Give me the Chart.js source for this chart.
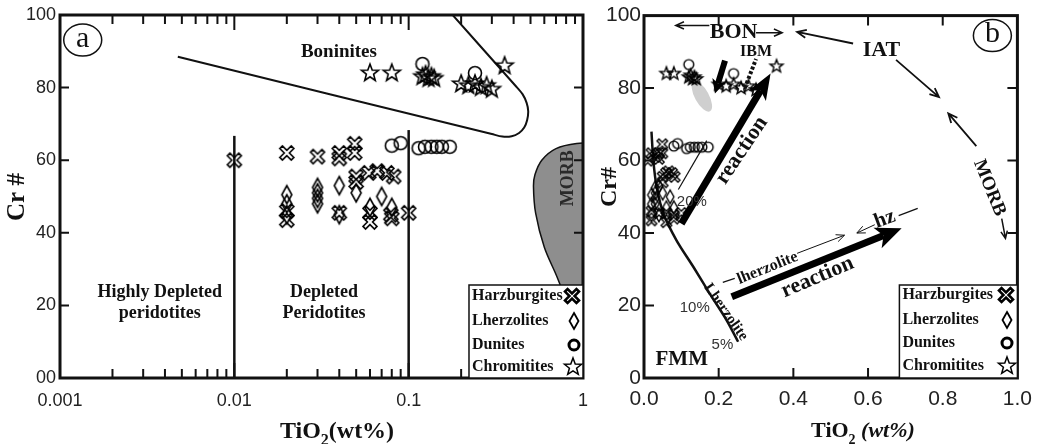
<!DOCTYPE html>
<html>
<head>
<meta charset="utf-8">
<script src="https://cdn.jsdelivr.net/npm/chart.js@4.4.0/dist/chart.umd.min.js"></script>
<style>
  html, body { margin: 0; padding: 0; background: #fff; }
  #wrap { position: relative; width: 1041px; height: 444px; overflow: hidden; }
  #wrap canvas { position: absolute; top: 0; }
</style>
</head>
<body>
<div id="wrap">
  <canvas id="chartA" width="600" height="444" style="left:0"></canvas>
  <canvas id="chartB" width="461" height="444" style="left:580px"></canvas>
</div>
<script>
// ---- sample data (TiO2 wt%, Cr#) ----
const harzTi = [0.01, 0.02, 0.02, 0.02, 0.03, 0.04, 0.04, 0.04, 0.049, 0.049, 0.05, 0.05, 0.059, 0.06, 0.06, 0.066, 0.075, 0.082, 0.079, 0.08, 0.1];
const harzCr = [60, 62, 46, 43.5, 61, 62, 60.5, 45.5, 64.5, 62, 55.5, 54, 56.5, 45.5, 43, 57, 56.5, 55.5, 45, 44, 45.5];
const lherzTi = [0.02, 0.02, 0.02, 0.03, 0.03, 0.03, 0.03, 0.04, 0.04, 0.05, 0.06, 0.07, 0.08];
const lherzCr = [50.5, 48, 45, 52.5, 51, 49.5, 48, 53, 45, 51, 47, 50, 47];
const duniteTi = [0.08, 0.09, 0.114, 0.124, 0.135, 0.145, 0.155, 0.172, 0.12, 0.24];
const duniteCr = [64, 64.7, 63.3, 63.7, 63.7, 63.7, 63.7, 63.7, 86.5, 84];
const chromTi = [0.06, 0.08, 0.12, 0.125, 0.13, 0.135, 0.14, 0.2, 0.22, 0.24, 0.26, 0.28, 0.3, 0.355];
const chromCr = [84, 84, 83, 83.5, 82.5, 83, 82.5, 81, 80.5, 81, 80, 80.5, 79.5, 86];
const rockNames = ['Harzburgites', 'Lherzolites', 'Dunites', 'Chromitites'];

// ---- fields and lines, panel a ----
const boniniteTi = [0.00474, 0.30, 0.345, 0.39, 0.43, 0.46, 0.478, 0.485, 0.475, 0.45, 0.41, 0.175];
const boniniteCr = [88.5, 67.2, 66.5, 66.6, 67.5, 69, 71, 73.5, 75.8, 78.2, 80.5, 100.5];
const morbTi = [1.3, 0.92, 0.70, 0.58, 0.53, 0.52, 0.535, 0.6, 0.71, 0.8, 0.88, 0.95, 1.3];
const morbCr = [64.8, 64.6, 63.2, 60, 56, 52.7, 45.4, 36, 27.8, 21, 12, 0, -5];
const hdLineTi = [0.01, 0.01], hdLineCr = [0, 66.7];
const dpLineTi = [0.1, 0.1], dpLineCr = [0, 68.3];

// ---- lines and arrows, panel b ----
const meltTi = [0.02, 0.025, 0.034, 0.052, 0.087, 0.132, 0.176, 0.221, 0.252];
const meltCr = [68, 60, 52.7, 45.4, 38, 30.7, 23.3, 16, 10];
const bonLeft = [[0.175, 97.3], [0.085, 97.3]];
const bonRight = [[0.30, 95.3], [0.37, 95.3]];
const iatLeft = [[0.56, 92.3], [0.41, 95.5]];
const iatDown = [[0.675, 87.8], [0.79, 77.5]];
const morbUp = [[0.89, 64], [0.815, 73]];
const morbDown = [[0.958, 44], [0.968, 38.5]];
const ibmArrow = [[0.217, 87.6], [0.19, 78.5]];
const ibmTrail = [[0.27, 80], [0.30, 88]];
const ibmField = [0.155, 77.7];
const reactUp = [[0.1, 42.6], [0.339, 84]];
const reactLow = [[0.235, 22.4], [0.69, 41.3]];
const meltThin = [[0.092, 52], [0.168, 65.5]];
const lherzDash = [[0.211, 26.4], [0.243, 27.5]];
const lherzArrow = [[0.41, 34.4], [0.537, 39.4]];
const hzLine = [[0.733, 46.8], [0.682, 44.8]];
const hzArrow = [[0.618, 42.3], [0.57, 40]];

// ---- tick values ----
const logTicks = [0.001, 0.01, 0.1, 1];
const linTicks = [0, 0.2, 0.4, 0.6, 0.8, 1.0];
const crTicks = [0, 20, 40, 60, 80, 100];

const SERIF = '"Liberation Serif", "Times New Roman", serif';
const SANS = '"Liberation Sans", Arial, sans-serif';
const INK = '#111';

function pts(xs, ys) { return xs.map((x, i) => ({ x: x, y: ys[i] })); }
function serif(size, bold, italic) { return (italic ? 'italic ' : '') + (bold ? 'bold ' : '') + size + 'px ' + SERIF; }

// outlined marker images
function mk(kind, w, h, lw) {
  const c = document.createElement('canvas');
  c.width = 2 * Math.ceil((w + lw * 2 + 2) / 2);
  c.height = 2 * Math.ceil((h + lw * 2 + 2) / 2);
  const g = c.getContext('2d');
  g.translate(c.width / 2, c.height / 2);
  g.strokeStyle = '#000';
  g.lineWidth = lw;
  g.beginPath();
  if (kind === 'x') {
    const t = w * 0.13, a = w / Math.SQRT2 - t;
    const p = [[t, t], [t, a], [-t, a], [-t, t], [-a, t], [-a, -t], [-t, -t], [-t, -a], [t, -a], [t, -t], [a, -t], [a, t]];
    const c45 = Math.SQRT1_2;
    p.forEach(([x, y], i) => {
      const X = (x - y) * c45, Y = (x + y) * c45;
      if (i) g.lineTo(X, Y); else g.moveTo(X, Y);
    });
    g.closePath();
  } else if (kind === 'diamond') {
    g.moveTo(0, -h / 2); g.lineTo(w / 2, 0); g.lineTo(0, h / 2); g.lineTo(-w / 2, 0); g.closePath();
  } else if (kind === 'circle') {
    g.arc(0, 0, w / 2, 0, Math.PI * 2);
  } else {
    for (let i = 0; i < 10; i++) {
      const r = i % 2 ? w / 2 * 0.42 : w / 2;
      const an = -Math.PI / 2 + i * Math.PI / 5;
      if (i) g.lineTo(r * Math.cos(an), r * Math.sin(an)); else g.moveTo(r * Math.cos(an), r * Math.sin(an));
    }
    g.closePath();
  }
  g.stroke();
  return c;
}

const legendMarks = [mk('x', 14, 14, 2.6), mk('diamond', 9, 16, 1.8), mk('circle', 10, 10, 3), mk('star', 18, 18, 1.5)];

function sampleSets(k, lw) {
  const base = { showLine: false, pointRadius: 6, pointHoverRadius: 6, order: 1 };
  return [
    Object.assign({ label: rockNames[0], data: pts(harzTi, harzCr), pointStyle: mk('x', 14 * k, 14 * k, lw) }, base),
    Object.assign({ label: rockNames[1], data: pts(lherzTi, lherzCr), pointStyle: mk('diamond', 10 * k, 18 * k, lw) }, base),
    Object.assign({ label: rockNames[2], data: pts(duniteTi, duniteCr), pointStyle: mk('circle', 13 * k, 13 * k, lw) }, base),
    Object.assign({ label: rockNames[3], data: pts(chromTi, chromCr), pointStyle: mk('star', 18 * k, 18 * k, lw) }, base)
  ];
}

function lineSet(xs, ys, width, extra) {
  return Object.assign({ data: pts(xs, ys), showLine: true, pointRadius: 0, borderColor: INK, borderWidth: width, tension: 0, fill: false, order: 2 }, extra || {});
}

function drawText(ctx, str, x, y, f, angle, color) {
  ctx.save();
  ctx.translate(x, y);
  if (angle) ctx.rotate(angle * Math.PI / 180);
  ctx.font = f;
  ctx.fillStyle = color || INK;
  ctx.textAlign = 'center';
  ctx.textBaseline = 'middle';
  ctx.fillText(str, 0, 0);
  ctx.restore();
}

function openArrow(ctx, p1, p2, head, lw) {
  const an = Math.atan2(p2[1] - p1[1], p2[0] - p1[0]);
  ctx.save();
  ctx.strokeStyle = INK; ctx.lineWidth = lw;
  ctx.beginPath();
  ctx.moveTo(p1[0], p1[1]); ctx.lineTo(p2[0], p2[1]);
  ctx.moveTo(p2[0] - head * Math.cos(an - 0.42), p2[1] - head * Math.sin(an - 0.42));
  ctx.lineTo(p2[0], p2[1]);
  ctx.lineTo(p2[0] - head * Math.cos(an + 0.42), p2[1] - head * Math.sin(an + 0.42));
  ctx.stroke();
  ctx.restore();
}

function solidArrow(ctx, p1, p2, w, hl, hw) {
  const an = Math.atan2(p2[1] - p1[1], p2[0] - p1[0]);
  const bx = p2[0] - hl * Math.cos(an), by = p2[1] - hl * Math.sin(an);
  const nx = -Math.sin(an), ny = Math.cos(an);
  const nb = hl * 0.25;
  ctx.save();
  ctx.strokeStyle = '#000'; ctx.fillStyle = '#000';
  ctx.lineWidth = w;
  ctx.beginPath(); ctx.moveTo(p1[0], p1[1]); ctx.lineTo(bx + nb * Math.cos(an), by + nb * Math.sin(an)); ctx.stroke();
  ctx.beginPath();
  ctx.moveTo(p2[0], p2[1]);
  ctx.lineTo(bx + nx * hw / 2, by + ny * hw / 2);
  ctx.lineTo(bx + nb * Math.cos(an), by + nb * Math.sin(an));
  ctx.lineTo(bx - nx * hw / 2, by - ny * hw / 2);
  ctx.closePath(); ctx.fill();
  ctx.restore();
}

function frame(chart, xTicks, yTicks) {
  const ctx = chart.ctx, a = chart.chartArea, sx = chart.scales.x, sy = chart.scales.y;
  ctx.save();
  ctx.strokeStyle = INK; ctx.lineWidth = 2;
  ctx.beginPath();
  xTicks.forEach(t => {
    const px = sx.getPixelForValue(t[0]);
    ctx.moveTo(px, a.top); ctx.lineTo(px, a.top + t[1]);
    ctx.moveTo(px, a.bottom); ctx.lineTo(px, a.bottom - t[1]);
  });
  yTicks.forEach(t => {
    const py = sy.getPixelForValue(t[0]);
    ctx.moveTo(a.left, py); ctx.lineTo(a.left + t[1], py);
    ctx.moveTo(a.right, py); ctx.lineTo(a.right - t[1], py);
  });
  ctx.stroke();
  ctx.lineWidth = 3;
  ctx.strokeRect(a.left, a.top, a.right - a.left, a.bottom - a.top);
  ctx.restore();
}

function legendBox(chart, box, rowsY, textX, markX) {
  const ctx = chart.ctx;
  ctx.save();
  ctx.fillStyle = '#fff';
  ctx.fillRect(box[0], box[1], box[2], box[3]);
  ctx.strokeStyle = INK; ctx.lineWidth = 1.5;
  ctx.strokeRect(box[0], box[1], box[2], box[3]);
  ctx.font = serif(16, true);
  ctx.fillStyle = INK;
  ctx.textBaseline = 'middle'; ctx.textAlign = 'left';
  chart.data.datasets.filter(d => rockNames.includes(d.label)).forEach((d, i) => {
    ctx.fillText(d.label, textX, rowsY[i]);
    const img = legendMarks[i];
    const mx = markX[i];
    ctx.drawImage(img, Math.round(mx - img.width / 2), Math.round(rowsY[i] - img.height / 2));
  });
  ctx.restore();
}

function tiTitle(ctx, cx, cy, size, gap, italicUnit) {
  const big = serif(size, true), small = serif(Math.round(size * 0.65), true);
  const unit = serif(size, true, italicUnit);
  const parts = [['TiO', big, 0], ['2', small, size * 0.3], [gap + '(wt%)', unit, 0]];
  ctx.save();
  ctx.fillStyle = INK; ctx.textBaseline = 'alphabetic'; ctx.textAlign = 'left';
  let w = 0;
  parts.forEach(p => { ctx.font = p[1]; w += ctx.measureText(p[0]).width; });
  let x = cx - w / 2;
  const base = cy + size * 0.33;
  parts.forEach(p => { ctx.font = p[1]; ctx.fillText(p[0], x, base + p[2]); x += ctx.measureText(p[0]).width; });
  ctx.restore();
}

function tagCircle(ctx, x, y, ch) {
  ctx.save();
  ctx.strokeStyle = INK; ctx.lineWidth = 1.5;
  ctx.beginPath(); ctx.ellipse(x, y, 19, 16, 0, 0, Math.PI * 2); ctx.stroke();
  ctx.restore();
  drawText(ctx, ch, x, y - 1, '30px ' + SERIF);
}

// ---- panel a annotations ----
const bonLabelA = [0.0398, 89.8];
const hdLabelA = [0.00373, 23.7];
const dpLabelA = [0.0327, 23.7];
const morbLabelA = [0.82, 55];
const tagA = [0.00135, 93.1];

const panelA = {
  id: 'panelA',
  afterDatasetsDraw(chart) {
    const ctx = chart.ctx, a = chart.chartArea, sx = chart.scales.x, sy = chart.scales.y;
    const X = v => sx.getPixelForValue(v), Y = v => sy.getPixelForValue(v);
    drawText(ctx, 'Boninites', X(bonLabelA[0]), Y(bonLabelA[1]), serif(19, true));
    drawText(ctx, 'Highly Depleted', X(hdLabelA[0]), Y(hdLabelA[1]), serif(18, true));
    drawText(ctx, 'peridotites', X(hdLabelA[0]), Y(hdLabelA[1]) + 21, serif(18, true));
    drawText(ctx, 'Depleted', X(dpLabelA[0]), Y(dpLabelA[1]), serif(18, true));
    drawText(ctx, 'Peridotites', X(dpLabelA[0]), Y(dpLabelA[1]) + 21, serif(18, true));
    drawText(ctx, 'MORB', X(morbLabelA[0]), Y(morbLabelA[1]), serif(18, true), -90, '#2a2a2a');
    tagCircle(ctx, X(tagA[0]), Y(tagA[1]), 'a');

    const xt = [];
    logTicks.slice(0, 3).forEach(d => {
      for (let m = 1; m < 10; m++) xt.push([d * m, m === 1 ? 15 : 9]);
    });
    frame(chart, xt, crTicks.slice(1, 5).map(v => [v, 9]));
    legendBox(chart, [a.right - 114, 285, 114, a.bottom - 285], [296, 321, 345, 367], a.right - 111, [a.right - 11, a.right - 9, a.right - 9, a.right - 10]);

    drawText(ctx, 'Cr #', 18, 197, serif(25, true), -90);
    tiTitle(ctx, 337, 430, 24, '', false);
  }
};

// ---- panel b annotations ----
const tagB = [0.933, 94.5];
const textB = [
  ['BON', 0.24, 95.5, 22, 0],
  ['IAT', 0.636, 90.3, 22, 0],
  ['IBM', 0.30, 90, 16, 0],
  ['MORB', 0.925, 52.5, 19, 68],
  ['FMM', 0.101, 5, 21, 0],
  ['reaction', 0.262, 62.8, 22, -56],
  ['reaction', 0.465, 27.8, 22, -23],
  ['lherzolite', 0.331, 30.3, 16, -22],
  ['Lherzolite', 0.219, 18.2, 15, 55],
  ['hz', 0.645, 43.8, 21, -20]
];
const pctB = [['20%', 0.128, 48.5], ['10%', 0.136, 19.3], ['5%', 0.21, 9.1]];

const panelB = {
  id: 'panelB',
  beforeDatasetsDraw(chart) {
    const ctx = chart.ctx, sx = chart.scales.x, sy = chart.scales.y;
    ctx.save();
    ctx.fillStyle = '#cfcfcf';
    ctx.beginPath();
    ctx.ellipse(sx.getPixelForValue(ibmField[0]), sy.getPixelForValue(ibmField[1]), 7, 17, -0.5, 0, Math.PI * 2);
    ctx.fill();
    ctx.restore();
  },
  afterDatasetsDraw(chart) {
    const ctx = chart.ctx, a = chart.chartArea, sx = chart.scales.x, sy = chart.scales.y;
    const P = p => [sx.getPixelForValue(p[0]), sy.getPixelForValue(p[1])];

    openArrow(ctx, P(bonLeft[0]), P(bonLeft[1]), 9, 1.5);
    openArrow(ctx, P(bonRight[0]), P(bonRight[1]), 9, 1.5);
    openArrow(ctx, P(iatLeft[0]), P(iatLeft[1]), 10, 1.8);
    openArrow(ctx, P(iatDown[0]), P(iatDown[1]), 10, 1.8);
    openArrow(ctx, P(morbUp[0]), P(morbUp[1]), 10, 1.8);
    openArrow(ctx, P(morbDown[0]), P(morbDown[1]), 8, 1.5);
    openArrow(ctx, P(lherzArrow[0]), P(lherzArrow[1]), 9, 1);
    openArrow(ctx, P(hzArrow[0]), P(hzArrow[1]), 9, 1);

    ctx.save();
    ctx.strokeStyle = INK; ctx.lineWidth = 1.2;
    [meltThin, lherzDash, hzLine].forEach(seg => {
      const p1 = P(seg[0]), p2 = P(seg[1]);
      ctx.beginPath(); ctx.moveTo(p1[0], p1[1]); ctx.lineTo(p2[0], p2[1]); ctx.stroke();
    });
    ctx.lineWidth = 4; ctx.setLineDash([3, 2]);
    const t1 = P(ibmTrail[0]), t2 = P(ibmTrail[1]);
    ctx.beginPath(); ctx.moveTo(t1[0], t1[1]); ctx.lineTo(t2[0], t2[1]); ctx.stroke();
    ctx.restore();

    solidArrow(ctx, P(ibmArrow[0]), P(ibmArrow[1]), 6, 14, 14);
    solidArrow(ctx, P(reactUp[0]), P(reactUp[1]), 7, 26, 20);
    solidArrow(ctx, P(reactLow[0]), P(reactLow[1]), 7, 26, 22);

    textB.forEach(t => drawText(ctx, t[0], sx.getPixelForValue(t[1]), sy.getPixelForValue(t[2]), serif(t[3], true), t[4]));
    pctB.forEach(t => drawText(ctx, t[0], sx.getPixelForValue(t[1]), sy.getPixelForValue(t[2]), '15px ' + SANS, 0, '#333'));
    tagCircle(ctx, sx.getPixelForValue(tagB[0]), sy.getPixelForValue(tagB[1]), 'b');

    frame(chart, linTicks.slice(1, 5).map(v => [v, 10]), crTicks.slice(1, 5).map(v => [v, 10]));
    legendBox(chart, [a.right - 118, 285, 118, a.bottom - 285], [295, 320, 343, 366], a.right - 115, [a.right - 11, a.right - 10, a.right - 10, a.right - 10]);

    drawText(ctx, 'Cr#', 30, 187, serif(24, true), -90);
    tiTitle(ctx, 283, 430, 22, ' ', true);
  }
};

function axisY(width, size, pad, zeroLabel) {
  return {
    type: 'linear', min: 0, max: 100,
    afterBuildTicks: s => { s.ticks = crTicks.map(v => ({ value: v })); },
    afterFit: s => { s.width = width; },
    grid: { display: false, drawTicks: false }, border: { display: false },
    ticks: { padding: pad, color: '#222', font: { family: SANS, size: size }, callback: v => (v === 0 ? zeroLabel : String(v)) }
  };
}

Chart.defaults.font.family = SANS;

new Chart(document.getElementById('chartA'), {
  type: 'scatter',
  data: {
    datasets: sampleSets(1, 1.6).concat([
      lineSet(boniniteTi, boniniteCr, 2, { tension: 0.3 }),
      lineSet(hdLineTi, hdLineCr, 2.5),
      lineSet(dpLineTi, dpLineCr, 2.5),
      lineSet(morbTi, morbCr, 1.5, { tension: 0.35, fill: 'shape', backgroundColor: '#8e8e8e', order: 5 })
    ])
  },
  options: {
    responsive: false, animation: false, events: [],
    devicePixelRatio: 1,
    layout: { padding: { top: 15, right: 14, bottom: 0, left: 0 } },
    plugins: { legend: { display: false }, tooltip: { enabled: false } },
    scales: {
      x: {
        type: 'logarithmic', min: 0.001, max: 1,
        afterBuildTicks: s => { s.ticks = logTicks.map(v => ({ value: v })); },
        afterFit: s => { s.height = 66; },
        grid: { display: false, drawTicks: false }, border: { display: false },
        ticks: { autoSkip: false, maxRotation: 0, padding: 12, color: '#222', font: { family: SANS, size: 18 }, callback: v => String(v) }
      },
      y: axisY(60, 18, 4, '00')
    }
  },
  plugins: [panelA]
});

new Chart(document.getElementById('chartB'), {
  type: 'scatter',
  data: {
    datasets: sampleSets(0.75, 1.4).concat([
      lineSet(meltTi, meltCr, 2.5, { tension: 0.3 })
    ])
  },
  options: {
    responsive: false, animation: false, events: [],
    devicePixelRatio: 1,
    layout: { padding: { top: 15, right: 23, bottom: 0, left: 0 } },
    plugins: { legend: { display: false }, tooltip: { enabled: false } },
    scales: {
      x: {
        type: 'linear', min: 0, max: 1,
        afterBuildTicks: s => { s.ticks = linTicks.map(v => ({ value: v })); },
        afterFit: s => { s.height = 66; },
        grid: { display: false, drawTicks: false }, border: { display: false },
        ticks: { autoSkip: false, maxRotation: 0, padding: 9, color: '#222', font: { family: SANS, size: 21 }, callback: v => v.toFixed(1) }
      },
      y: axisY(64, 21, 3, '0')
    }
  },
  plugins: [panelB]
});
</script>
</body>
</html>
